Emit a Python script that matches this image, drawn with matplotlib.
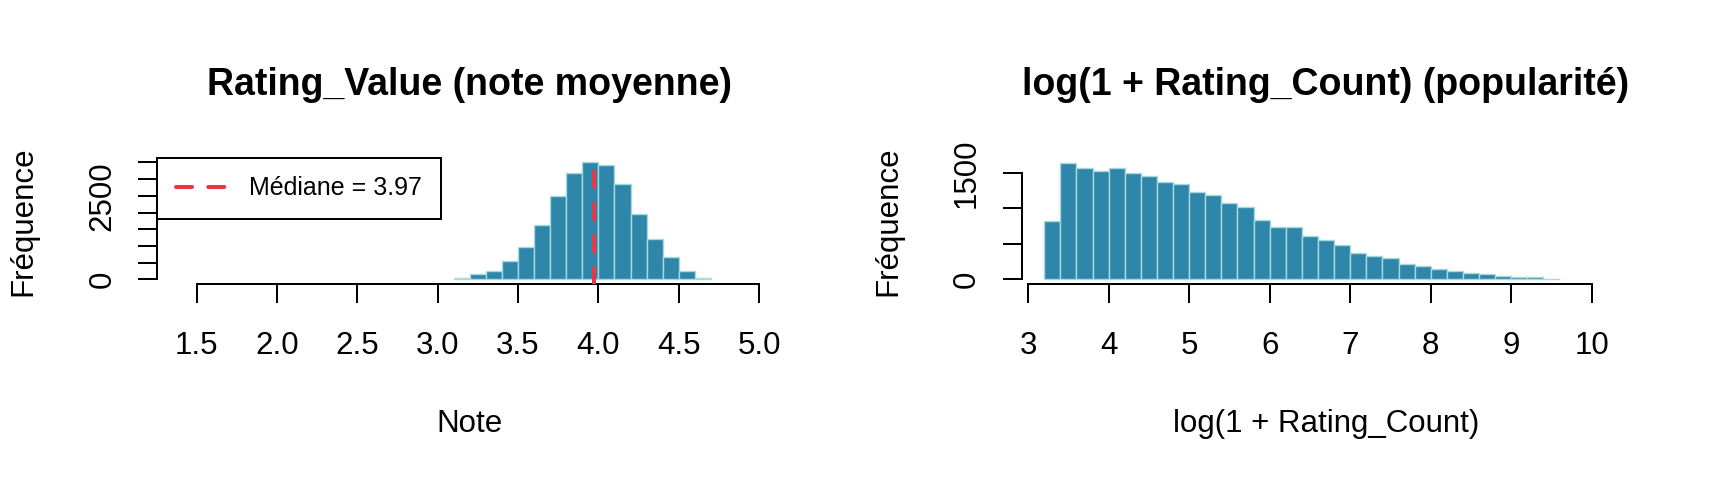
import matplotlib
matplotlib.use('Agg')
import matplotlib.pyplot as plt
import numpy as np

plt.rcParams['font.family'] = ['Liberation Sans', 'DejaVu Sans']

# ---- data: Rating_Value histogram (bins of 0.1 starting at 3.1)
rating_bin_start = 3.1
rating_bin_width = 0.1
rating_counts = [50, 150, 255, 555, 970, 1636, 2500, 3181, 3503, 3413,
                 2861, 1946, 1205, 681, 255, 50]
rating_median = 3.97
rating_xticks = [1.5, 2.0, 2.5, 3.0, 3.5, 4.0, 4.5, 5.0]
rating_yticks = [0, 500, 1000, 1500, 2000, 2500, 3000, 3500]
rating_ylabels = ['0', '', '', '', '', '2500', '', '']

# ---- data: log(1 + Rating_Count) histogram (bins of 0.2 starting at 3.2)
pop_bin_start = 3.2
pop_bin_width = 0.2
pop_counts = [820, 1640, 1570, 1530, 1571, 1505, 1462, 1377, 1349, 1236,
              1184, 1080, 1014, 844, 736, 736, 608, 552, 491, 373,
              330, 302, 222, 189, 146, 115, 90, 75, 47, 28, 26, 5]
pop_xticks = [3, 4, 5, 6, 7, 8, 9, 10]
pop_yticks = [0, 500, 1000, 1500]
pop_ylabels = ['0', '', '', '1500']

BAR = '#2E86AB'
EDGE = '#A8DADC'
RED = '#E63946'
FS = 22.5
LW = 1.44

W, H = 1728, 480
fig = plt.figure(figsize=(W / 100, H / 100), dpi=100)


def px_axes(x0, x1, ytop, ybot):
    return fig.add_axes([x0 / W, (H - ybot) / H, (x1 - x0) / W, (ybot - ytop) / H])


def style(ax, xticks, yticks, ylabels, xb, yb):
    for s in ('top', 'right'):
        ax.spines[s].set_visible(False)
    ax.spines['left'].set_bounds(*yb)
    ax.spines['bottom'].set_bounds(*xb)
    for s in ('left', 'bottom'):
        ax.spines[s].set_linewidth(LW)
    ax.set_xticks(xticks)
    ax.set_xticklabels([('%g' % t) if isinstance(t, int) else ('%.1f' % t) for t in xticks])
    ax.set_yticks(yticks)
    ax.set_yticklabels(ylabels)
    ax.tick_params(axis='both', length=13.9, width=LW, labelsize=FS, direction='out')
    ax.tick_params(axis='x', pad=19.7)
    ax.tick_params(axis='y', pad=14.8)
    for lab in ax.get_yticklabels():
        lab.set_rotation(90)
        lab.set_va('center')
        lab.set_ha('right')


# ---- left panel
ax1 = px_axes(157.3, 782.3, 157.7, 284.0)
edges1 = [round(rating_bin_start + i * rating_bin_width, 2) for i in range(len(rating_counts))]
ax1.bar(edges1, rating_counts, width=rating_bin_width, align='edge', color=BAR,
        edgecolor=EDGE, linewidth=1.0, zorder=2)
ax1.axvline(rating_median, color=RED, lw=2.9, linestyle=(0, (4, 4)),
            dash_capstyle='round', zorder=3, label='Médiane = %.2f' % rating_median)
ax1.set_xlim(1.256, 5.144)
ax1.set_ylim(-140, 3643)
style(ax1, rating_xticks, rating_yticks, rating_ylabels, (1.5, 5.0), (0, 3500))
leg = ax1.legend(loc='upper left', bbox_to_anchor=(0, 1), borderaxespad=0, frameon=True,
                 fancybox=False, edgecolor='black', framealpha=1, fontsize=18,
                 handlelength=2.0, handletextpad=0.93, borderpad=0.75)
leg.get_frame().set_linewidth(LW)
ax1.set_title('Rating_Value (note moyenne)', fontsize=27, fontweight='bold', pad=45)
ax1.set_xlabel('Note', fontsize=FS)
ax1.xaxis.set_label_coords(0.5, -0.9866)
ax1.set_ylabel('Fréquence', fontsize=FS)
ax1.yaxis.set_label_coords(-0.190, 0.5)

# ---- right panel
ax2 = px_axes(1021.7, 1630.4, 157.7, 284.0)
edges2 = [round(pop_bin_start + i * pop_bin_width, 2) for i in range(len(pop_counts))]
ax2.bar(edges2, pop_counts, width=pop_bin_width, align='edge', color=BAR,
        edgecolor=EDGE, linewidth=1.0, zorder=2)
ax2.set_xlim(2.92, 10.48)
ax2.set_ylim(-66, 1716)
style(ax2, pop_xticks, pop_yticks, pop_ylabels, (3, 10), (0, 1500))
ax2.set_title('log(1 + Rating_Count) (popularité)', fontsize=27, fontweight='bold', pad=45)
ax2.set_xlabel('log(1 + Rating_Count)', fontsize=FS)
ax2.xaxis.set_label_coords(0.5, -0.9866)
ax2.set_ylabel('Fréquence', fontsize=FS)
ax2.yaxis.set_label_coords(-0.1943, 0.5)

fig.savefig('out.png', dpi=100)
